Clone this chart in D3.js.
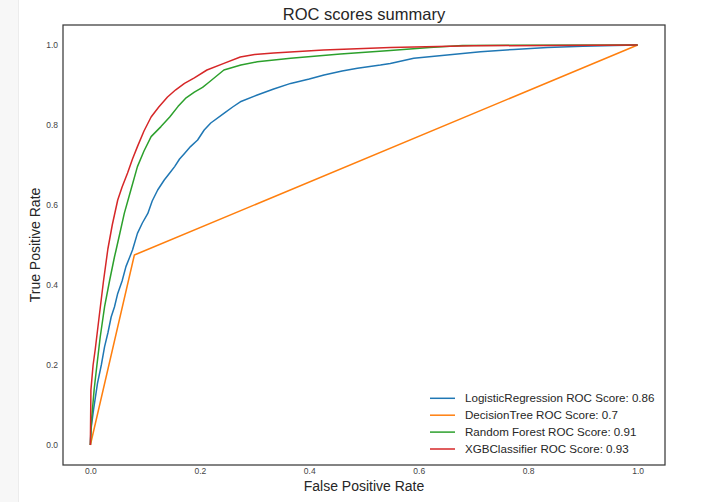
<!DOCTYPE html>
<html>
<head>
<meta charset="utf-8">
<script src="https://cdn.jsdelivr.net/npm/d3@7"></script>
<style>
html,body{margin:0;padding:0;background:#fff;}
svg{display:block;font-family:"Liberation Sans",Arial,sans-serif;}
</style>
</head>
<body>
<svg id="chart" width="722" height="502"></svg>
<script>
// ---- data ----
const xTicks = [0.0, 0.2, 0.4, 0.6, 0.8, 1.0];
const yTicks = [0.0, 0.2, 0.4, 0.6, 0.8, 1.0];
const tickLabels = ["0.0", "0.2", "0.4", "0.6", "0.8", "1.0"];

const seriesNames = [
  "LogisticRegression ROC Score: 0.86",
  "DecisionTree ROC Score: 0.7",
  "Random Forest ROC Score: 0.91",
  "XGBClassifier ROC Score: 0.93"
];
const seriesColors = ["#1f77b4", "#ff7f0e", "#2ca02c", "#d62728"];

const lrFpr = [0,0.001,0.006,0.013,0.02,0.026,0.032,0.038,0.044,0.05,0.058,0.065,0.072,0.077,0.086,0.095,0.105,0.113,0.123,0.135,0.145,0.154,0.163,0.172,0.183,0.196,0.208,0.22,0.244,0.26,0.274,0.305,0.335,0.366,0.4,0.427,0.46,0.488,0.53,0.548,0.591,0.652,0.713,0.774,0.835,0.9,0.957,1];
const lrTpr = [0,0.0375,0.09,0.154,0.2,0.246,0.28,0.32,0.345,0.379,0.41,0.446,0.47,0.4875,0.529,0.555,0.579,0.61,0.6375,0.6625,0.68,0.696,0.715,0.729,0.746,0.7625,0.7875,0.805,0.829,0.845,0.858,0.875,0.89,0.904,0.915,0.925,0.935,0.942,0.95,0.954,0.967,0.975,0.983,0.989,0.994,0.997,0.999,1];

const dtFpr = [0, 0.0804, 1];
const dtTpr = [0, 0.475, 1];

const rfFpr = [0,0.002,0.007,0.012,0.018,0.026,0.035,0.044,0.047,0.054,0.062,0.074,0.086,0.098,0.111,0.129,0.145,0.16,0.175,0.19,0.205,0.215,0.244,0.275,0.305,0.366,0.457,0.548,0.62,0.68,1];
const rfTpr = [0,0.06,0.14,0.2,0.27,0.346,0.41,0.47,0.4875,0.53,0.579,0.6375,0.696,0.735,0.771,0.796,0.82,0.846,0.868,0.882,0.894,0.905,0.9375,0.95,0.958,0.967,0.9775,0.986,0.994,0.999,1];

const xgbFpr = [0,0.001,0.005,0.009,0.016,0.024,0.032,0.04,0.05,0.058,0.068,0.077,0.086,0.098,0.111,0.125,0.141,0.156,0.172,0.19,0.213,0.244,0.274,0.3,0.335,0.426,0.548,0.7,1];
const xgbTpr = [0,0.1375,0.2,0.24,0.32,0.41,0.49,0.55,0.6125,0.645,0.68,0.715,0.746,0.785,0.82,0.845,0.87,0.888,0.904,0.918,0.9375,0.954,0.97,0.976,0.98,0.9875,0.994,0.998,1];

const fprs = [lrFpr, dtFpr, rfFpr, xgbFpr];
const tprs = [lrTpr, dtTpr, rfTpr, xgbTpr];

// ---- drawing ----
const svg = d3.select("#chart");
const L = 63, R = 665, T = 25, B = 465;

// side strip of the notebook page
svg.append("rect").attr("x", 0).attr("y", 0).attr("width", 18).attr("height", 502).attr("fill", "#f7f7f7");
svg.append("line").attr("x1", 18.5).attr("x2", 18.5).attr("y1", 0).attr("y2", 502).attr("stroke", "#ececec");

const x = d3.scaleLinear().domain([-0.05, 1.05]).range([L, R]);
const y = d3.scaleLinear().domain([-0.05, 1.05]).range([B, T]);

const xAxis = d3.axisBottom(x).tickValues(xTicks).tickSize(0).tickPadding(3)
  .tickFormat((d, i) => tickLabels[i]);
const yAxis = d3.axisLeft(y).tickValues(yTicks).tickSize(0).tickPadding(5)
  .tickFormat((d, i) => tickLabels[i]);

const gx = svg.append("g").attr("transform", `translate(0,${B})`).call(xAxis);
const gy = svg.append("g").attr("transform", `translate(${L},0)`).call(yAxis);
[gx, gy].forEach(g => {
  g.select(".domain").remove();
  g.selectAll("text").attr("font-size", "8.5px").attr("fill", "#444")
    .attr("font-family", '"Liberation Sans",Arial,sans-serif');
});

const line = d3.line().x(d => x(d[0])).y(d => y(d[1]));
fprs.forEach((f, i) => {
  const pts = f.map((v, j) => [v, tprs[i][j]]);
  svg.append("path").datum(pts).attr("d", line)
    .attr("fill", "none").attr("stroke", seriesColors[i])
    .attr("stroke-width", 1.5).attr("stroke-linejoin", "round");
});

// frame
svg.append("rect").attr("x", L).attr("y", T).attr("width", R - L).attr("height", B - T)
  .attr("fill", "none").attr("stroke", "#3a3a3a").attr("stroke-width", 1.25);

// title & labels
svg.append("text").attr("x", (L + R) / 2).attr("y", 20).attr("text-anchor", "middle")
  .attr("font-size", "16.5px").attr("fill", "#262626").text("ROC scores summary");
svg.append("text").attr("x", (L + R) / 2).attr("y", 491).attr("text-anchor", "middle")
  .attr("font-size", "14px").attr("fill", "#262626").text("False Positive Rate");
svg.append("text").attr("transform", `translate(40,${(T + B) / 2}) rotate(-90)`)
  .attr("text-anchor", "middle").attr("font-size", "14px").attr("fill", "#262626")
  .text("True Positive Rate");

// legend
const legY0 = 398.3, legDy = 16.9;
seriesNames.forEach((name, i) => {
  const yy = legY0 + i * legDy;
  svg.append("line").attr("x1", 430).attr("x2", 455).attr("y1", yy).attr("y2", yy)
    .attr("stroke", seriesColors[i]).attr("stroke-width", 1.5);
  svg.append("text").attr("x", 465).attr("y", yy).attr("dy", "0.35em")
    .attr("font-size", "11.6px").attr("fill", "#262626").text(name);
});
</script>
</body>
</html>
